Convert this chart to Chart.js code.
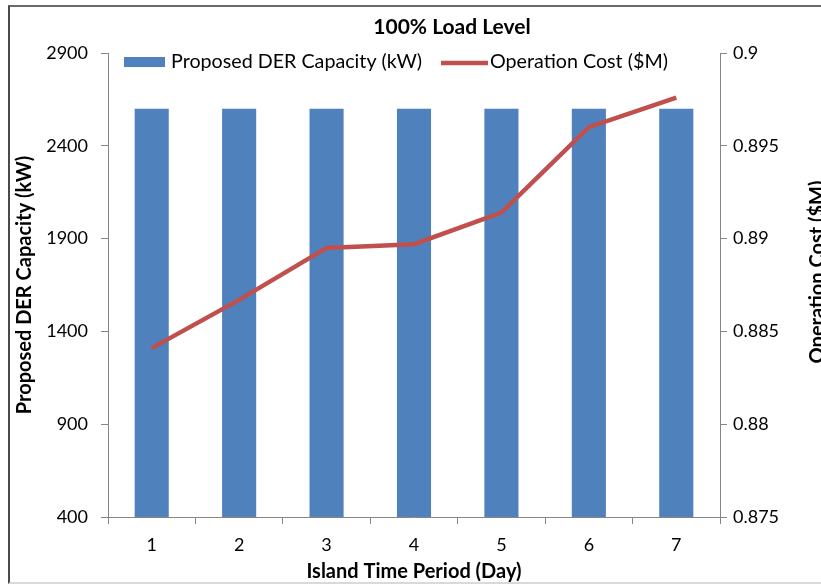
<!DOCTYPE html>
<html>
<head>
<meta charset="utf-8">
<script src="https://cdn.jsdelivr.net/npm/chart.js@4"></script>
<style>
  html, body { margin: 0; padding: 0; background: #fff; overflow: hidden; }
  #wrap { position: relative; width: 821px; height: 586px; }
  #frame { position: absolute; left: 8px; top: 5px; right: -10px; bottom: 2px;
           border-left: 2px solid #4a4a4a; border-top: 2px solid #6a6a6a; border-bottom: 2px solid #d9d9d9; pointer-events: none; }
  canvas { position: absolute; left: 0; top: 0; }
</style>
</head>
<body>
<div id="wrap">
  <canvas id="chart" width="821" height="586"></canvas>
  <div id="frame"></div>
</div>
<script>
const DIAS = ["1", "2", "3", "4", "5", "6", "7"];
const CAPACIDAD = [2600, 2600, 2600, 2600, 2600, 2600, 2600];
const COSTO = [0.8841, 0.8867, 0.8895, 0.8897, 0.8914, 0.8960, 0.8976];

const FUENTE = "Lato, 'Noto Sans', sans-serif";
const AZUL = "#4F81BD";
const ROJO = "#C0504D";
const GRIS = "#868686";

// titulo, leyenda y titulo del eje derecho se pintan a mano
const extras = {
    id: "extras",
    afterDraw(chart) {
        const c = chart.ctx;
        c.save();
        c.fillStyle = "#000";
        c.font = "bold 21px " + FUENTE;
        c.textAlign = "center";
        c.textBaseline = "middle";
        c.fillText("100% Load Level", 452, 27);

        // leyenda
        c.font = "19.7px " + FUENTE;
        c.textAlign = "left";
        c.fillStyle = AZUL;
        c.fillRect(124, 57, 41, 10);
        c.fillStyle = "#000";
        c.fillText("Proposed DER Capacity (kW)", 171, 62);
        c.strokeStyle = ROJO;
        c.lineWidth = 4.5;
        c.beginPath();
        c.moveTo(441, 63);
        c.lineTo(488, 63);
        c.stroke();
        c.fillText("Operation Cost ($M)", 490, 62);

        // eje derecho
        c.font = "bold 20px " + FUENTE;
        c.translate(818, 272);
        c.rotate(-Math.PI / 2);
        c.textAlign = "center";
        c.fillText("Operation Cost ($M)", 0, 0);
        c.restore();
    }
};

const ctx = document.getElementById("chart").getContext("2d");
const grafico = new Chart(ctx, {
    data: {
        labels: DIAS,
        datasets: [{
                type: "line",
                label: "Operation Cost ($M)",
                data: COSTO,
                yAxisID: "y1",
                borderColor: ROJO,
                backgroundColor: ROJO,
                borderWidth: 4.5,
                pointRadius: 0,
                tension: 0,
                order: 0
            },
            {
                type: "bar",
                label: "Proposed DER Capacity (kW)",
                data: CAPACIDAD,
                yAxisID: "y",
                backgroundColor: AZUL,
                barPercentage: 0.39,
                categoryPercentage: 1,
                order: 1
            }
        ]
    },
    options: {
        responsive: false,
        animation: false,
        layout: { padding: { left: 8, right: 0, top: 53, bottom: 0 } },
        plugins: {
            legend: { display: false },
            title: { display: false },
            tooltip: { enabled: false }
        },
        scales: {
            x: {
                grid: { display: true, drawOnChartArea: false, offset: true, color: GRIS, tickLength: 7 },
                border: { color: GRIS },
                ticks: { color: "#000", padding: 10, font: { family: FUENTE, size: 18 } },
                title: {
                    display: true,
                    text: "Island Time Period (Day)",
                    color: "#000",
                    padding: { top: 4, bottom: 2 },
                    font: { family: FUENTE, size: 20, weight: "bold" }
                },
                afterFit(scale) { scale.height = 69; }
            },
            y: {
                position: "left",
                min: 400,
                max: 2900,
                grid: { display: true, drawOnChartArea: false, color: GRIS, tickLength: 7 },
                border: { color: GRIS },
                ticks: {
                    stepSize: 500,
                    color: "#000",
                    padding: 13,
                    font: { family: FUENTE, size: 18 },
                    callback: v => String(v)
                },
                title: {
                    display: true,
                    text: "Proposed DER Capacity (kW)",
                    color: "#000",
                    padding: { top: 5, bottom: 4 },
                    font: { family: FUENTE, size: 20, weight: "bold" }
                },
                afterFit(scale) { scale.width = 100; }
            },
            y1: {
                position: "right",
                min: 0.875,
                max: 0.9,
                grid: { display: true, drawOnChartArea: false, color: GRIS, tickLength: 7 },
                border: { color: GRIS },
                ticks: {
                    stepSize: 0.005,
                    color: "#000",
                    padding: 6,
                    font: { family: FUENTE, size: 18 },
                    callback: v => String(+v.toFixed(3))
                },
                afterFit(scale) { scale.width = 101; }
            }
        }
    },
    plugins: [extras]
});
</script>
</body>
</html>
